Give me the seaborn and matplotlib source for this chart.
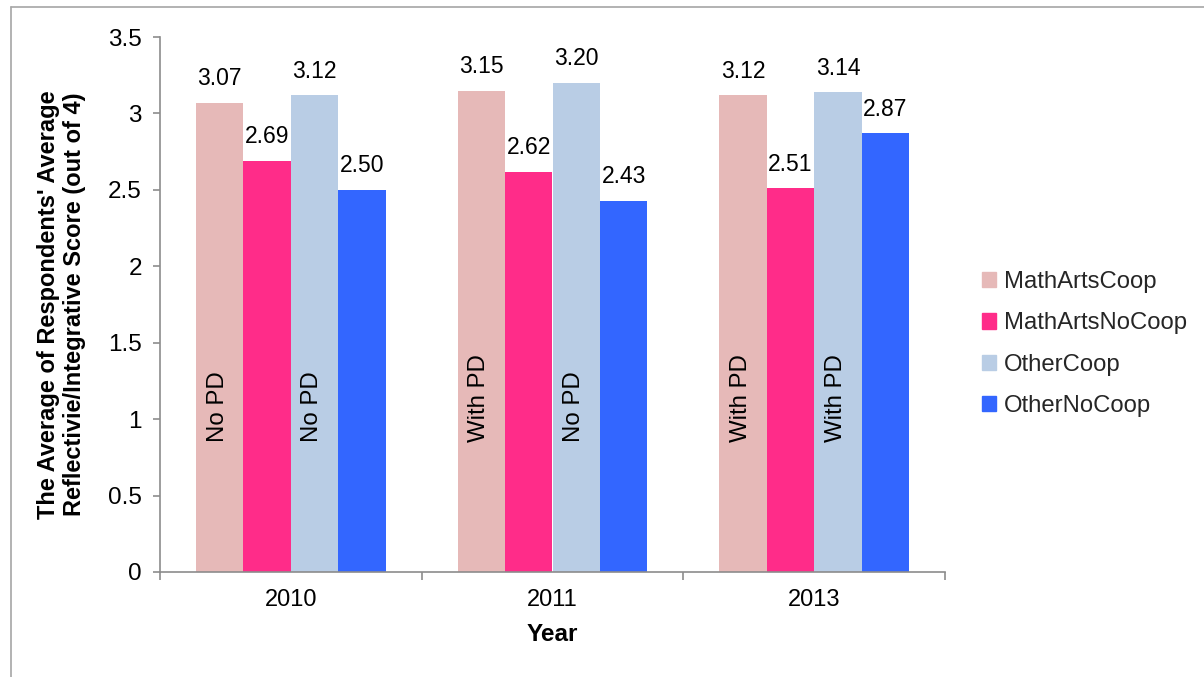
import matplotlib
matplotlib.use("Agg")
import matplotlib.pyplot as plt
from matplotlib.lines import Line2D
from matplotlib.ticker import FixedLocator
import seaborn as sns
import pandas as pd

years = ["2010", "2011", "2013"]
groups = ["MathArtsCoop", "MathArtsNoCoop", "OtherCoop", "OtherNoCoop"]
math_arts_coop = [3.07, 3.15, 3.12]
math_arts_nocoop = [2.69, 2.62, 2.51]
other_coop = [3.12, 3.20, 3.14]
other_nocoop = [2.50, 2.43, 2.87]
pd_notes_math_arts_coop = ["No PD", "With PD", "With PD"]
pd_notes_other_coop = ["No PD", "No PD", "With PD"]
colors = ["#E6B9B8", "#FF2C89", "#B9CDE5", "#3366FF"]

series = [math_arts_coop, math_arts_nocoop, other_coop, other_nocoop]
df = pd.DataFrame(
    [(y, g, v) for g, vals in zip(groups, series) for y, v in zip(years, vals)],
    columns=["Year", "Group", "Score"],
)

sns.set_theme(style="white")
plt.rcParams["font.family"] = ["Liberation Sans", "DejaVu Sans"]

fig = plt.figure(figsize=(12.04, 6.77), dpi=100)
ax = fig.add_axes([160 / 1204, 1 - 572 / 677, (945 - 160) / 1204, (572 - 37) / 677])

sns.barplot(data=df, x="Year", y="Score", hue="Group", hue_order=groups,
            order=years, palette=colors, saturation=1, width=0.725, gap=0,
            ax=ax, errorbar=None, edgecolor="none", linewidth=0, legend=False)

ax.set_xlim(-0.5, 2.5)
ax.set_ylim(0, 3.5)
ax.set_yticks([0, 0.5, 1, 1.5, 2, 2.5, 3, 3.5])
ax.set_yticklabels(["0", "0.5", "1", "1.5", "2", "2.5", "3", "3.5"])
ax.xaxis.set_minor_locator(FixedLocator([-0.5, 0.5, 1.5, 2.5]))

axis_gray = "#8C8C8C"
for side in ["top", "right"]:
    ax.spines[side].set_visible(False)
for side in ["left", "bottom"]:
    ax.spines[side].set_color(axis_gray)
    ax.spines[side].set_linewidth(1.2)

ax.tick_params(axis="y", which="major", direction="out", length=5, width=1.2,
               color=axis_gray, labelsize=17.5, pad=8, left=True, labelcolor="black")
ax.tick_params(axis="x", which="major", length=0, labelsize=17, pad=12,
               labelcolor="black")
ax.tick_params(axis="x", which="minor", direction="out", length=6, width=1.2,
               color=axis_gray, bottom=True)

for cont in ax.containers:
    ax.bar_label(cont, fmt="%.2f", padding=9, fontsize=16.5, color="black")

# Rotated PD notes on the cooperative bars
bars_mac = ax.containers[0]
bars_oc = ax.containers[2]
for bars, notes in [(bars_mac, pd_notes_math_arts_coop), (bars_oc, pd_notes_other_coop)]:
    for bar, note in zip(bars, notes):
        cx = bar.get_x() + bar.get_width() / 2
        ax.text(cx - 0.008, 0.85, note, rotation=90, ha="center", va="bottom",
                fontsize=17.3, color="black")

ax.set_xlabel("Year", fontsize=17.5, fontweight="bold", labelpad=9, color="black")
ax.set_ylabel("The Average of Respondents' Average\nReflectivie/Integrative Score (out of 4)",
              fontsize=17, fontweight="bold", labelpad=16, color="black", linespacing=1.17)

handles = [plt.Rectangle((0, 0), 1, 1, color=c) for c in colors]
fig.legend(handles, groups, loc="center left", bbox_to_anchor=(972 / 1204, 1 - 344 / 677),
           frameon=False, fontsize=17.2, handlelength=0.6, handleheight=0.6,
           handletextpad=0.35, labelspacing=0.8, borderaxespad=0)

border = "#A6A6A6"
fig.add_artist(Line2D([11 / 1204, 1], [1 - 7 / 677, 1 - 7 / 677], color=border, lw=1.2,
                      transform=fig.transFigure))
fig.add_artist(Line2D([11 / 1204, 11 / 1204], [0, 1 - 7 / 677], color=border, lw=1.2,
                      transform=fig.transFigure))

fig.savefig("out.png", dpi=100, facecolor="white")
